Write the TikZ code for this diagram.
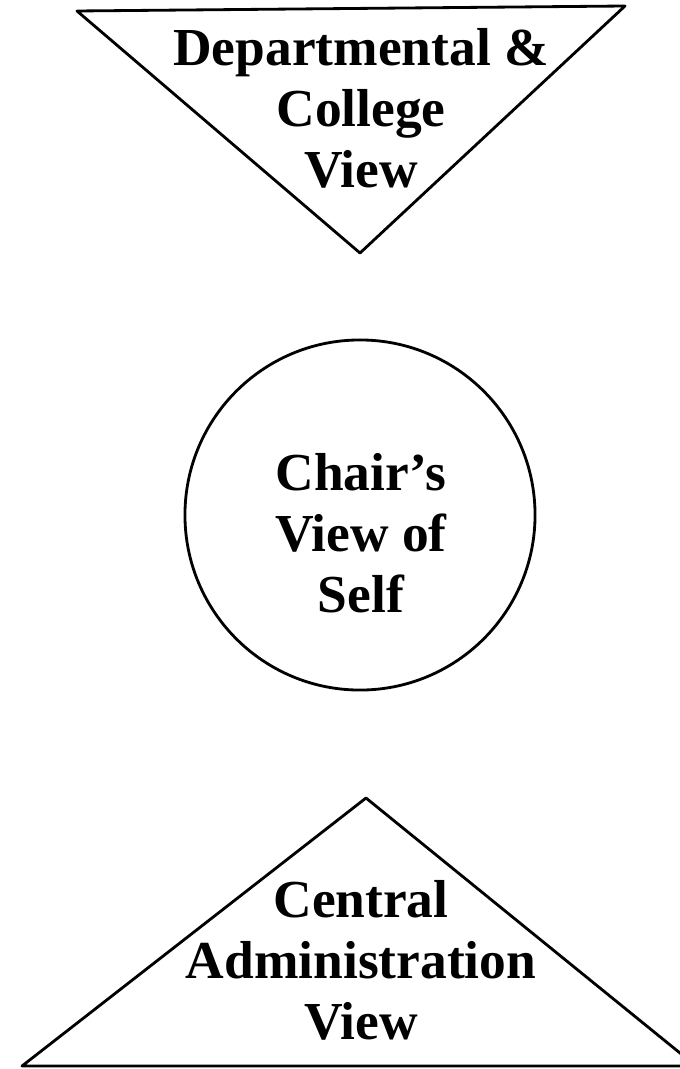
\documentclass[tikz,border=0pt]{standalone}
\usepackage{fontspec}
\setmainfont{Liberation Serif}
\begin{document}
\begin{tikzpicture}[
  x=0.025cm, y=-0.025cm,
  outline/.style={draw, line width=2pt, line join=round},
  viewtext/.style={font=\fontsize{38}{43.4}\selectfont\bfseries, align=center, inner sep=0pt}
]
\useasboundingbox (0,0) rectangle (679,1069);

% Departmental & college view (inverted triangle)
\coordinate (dtl) at (77,11);
\coordinate (dtr) at (625,6);
\coordinate (dtip) at (360,253);
\draw[outline] (dtl) -- (dtr) -- (dtip) -- cycle;
\node[viewtext] (dept) at (361,108) {Departmental \&\\College\\View};

% Chair's view of self
\node[circle, outline, minimum size=8.75cm, inner sep=0pt] (ring) at (360,515) {};
\node[viewtext] (chair) at (361,533) {Chair’s\\View of\\Self};

% Central administration view
\coordinate (ctip) at (366,798);
\coordinate (cbl) at (22,1066);
\coordinate (cbr) at (696,1066);
\draw[outline] (ctip) -- (cbr) -- (cbl) -- cycle;
\node[viewtext] (central) at (361,960) {Central\\Administration\\View};

\end{tikzpicture}
\end{document}
